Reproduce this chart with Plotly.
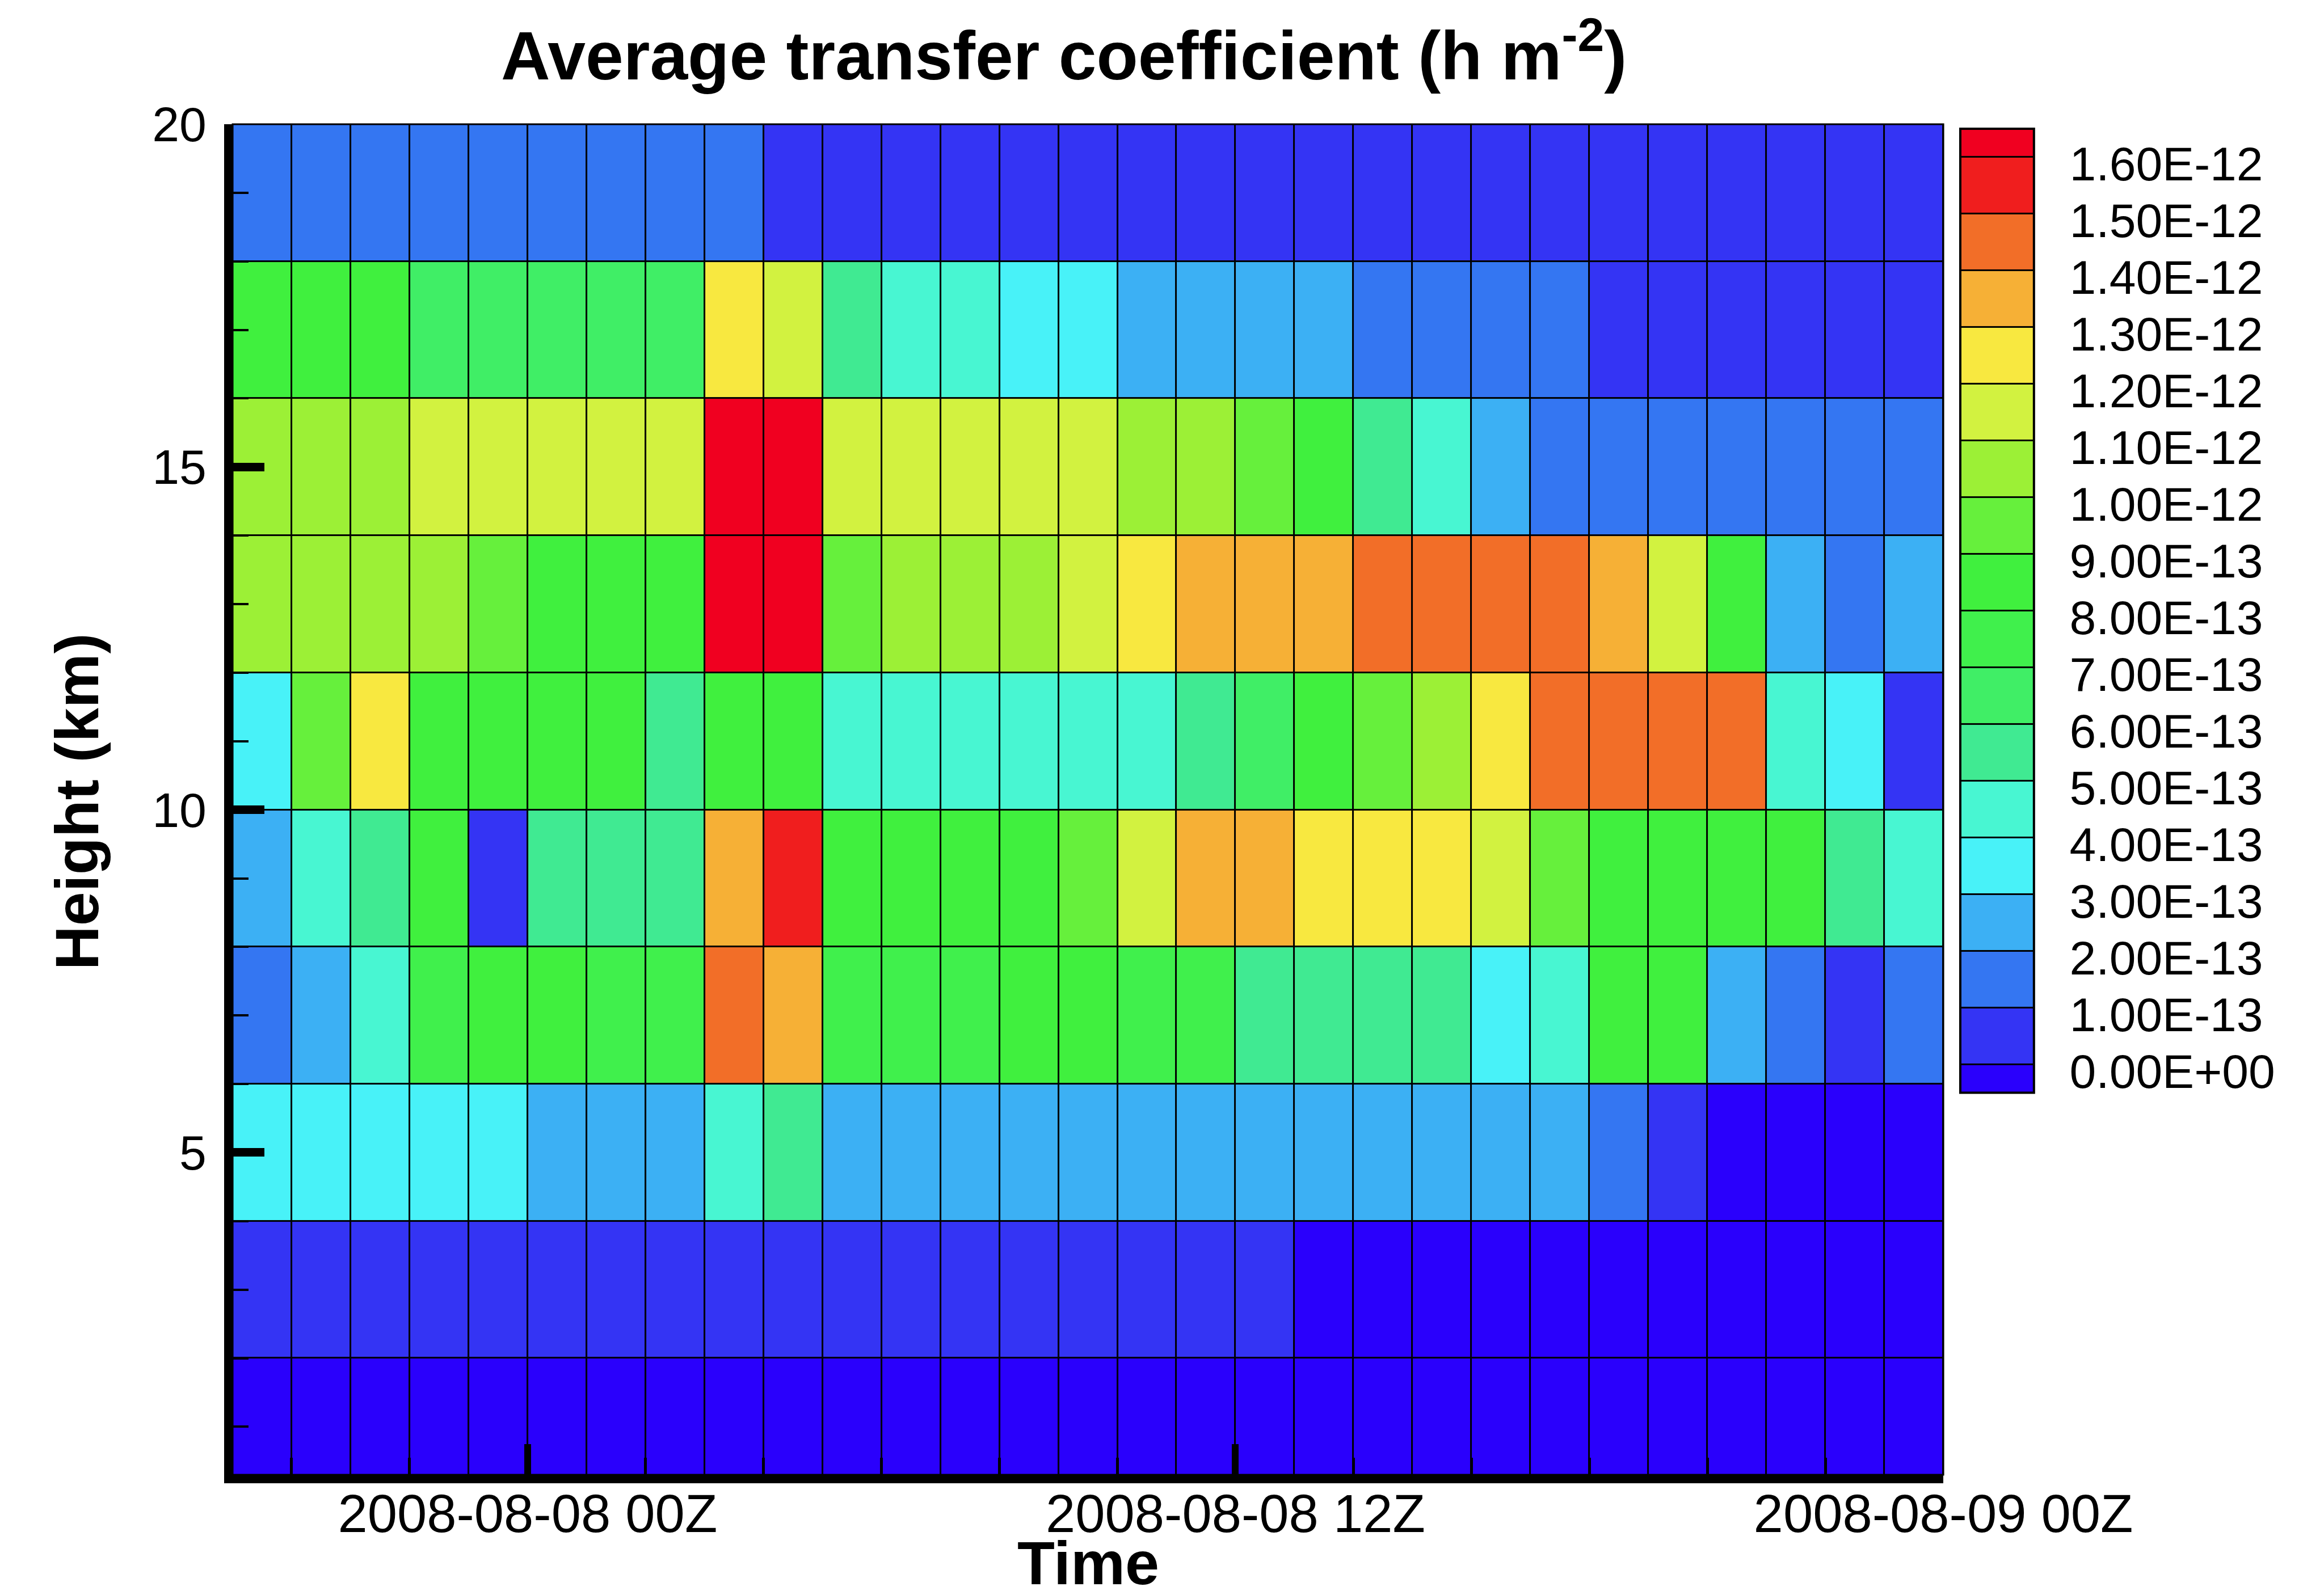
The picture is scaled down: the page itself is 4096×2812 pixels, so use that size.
import pandas as pd
import plotly.graph_objects as go

# ---- grid: hourly time bins and 2-km height bins (cell edges) ----
time_edges = pd.date_range("2008-08-07 19:00", "2008-08-09 00:00", freq="h")
height_edges_km = [0, 2, 4, 6, 8, 10, 12, 14, 16, 18, 20]

# ---- average transfer coefficient, units of 1e-13 h m^-2 ----
# one list per height bin, 29 hourly values from 2008-08-07 19Z
coef_00_02 = [-0.2, -0.2, -0.2, -0.2, -0.2, -0.2, -0.2, -0.2, -0.2, -0.2,
              -0.2, -0.2, -0.2, -0.2, -0.2, -0.2, -0.2, -0.2, -0.2, -0.2,
              -0.2, -0.2, -0.2, -0.2, -0.2, -0.2, -0.2, -0.2, -0.2]
coef_02_04 = [0.5, 0.5, 0.5, 0.5, 0.5, 0.5, 0.5, 0.5, 0.5, 0.5,
              0.5, 0.5, 0.5, 0.5, 0.5, 0.5, 0.5, 0.5, -0.2, -0.2,
              -0.2, -0.2, -0.2, -0.2, -0.2, -0.2, -0.2, -0.2, -0.2]
coef_04_06 = [3.5, 3.5, 3.5, 3.5, 3.5, 2.5, 2.5, 2.5, 4.5, 5.5,
              2.5, 2.5, 2.5, 2.5, 2.5, 2.5, 2.5, 2.5, 2.5, 2.5,
              2.5, 2.5, 2.5, 1.5, 0.5, -0.2, -0.2, -0.2, -0.2]
coef_06_08 = [1.5, 2.5, 4.5, 7.5, 8.5, 8.5, 7.5, 7.5, 14.5, 13.5,
              7.5, 7.5, 7.5, 8.5, 8.5, 7.5, 7.5, 5.5, 5.5, 5.5,
              5.5, 3.5, 4.5, 8.5, 8.5, 2.5, 1.5, 0.5, 1.5]
coef_08_10 = [2.5, 4.5, 5.5, 8.5, 0.5, 5.5, 5.5, 5.5, 13.5, 15.5,
              8.5, 8.5, 8.5, 8.5, 9.5, 11.5, 13.5, 13.5, 12.5, 12.5,
              12.5, 11.5, 9.5, 8.5, 8.5, 8.5, 8.5, 5.5, 4.5]
coef_10_12 = [3.5, 9.5, 12.5, 8.5, 8.5, 8.5, 8.5, 5.5, 8.5, 8.5,
              4.5, 4.5, 4.5, 4.5, 4.5, 4.5, 5.5, 6.5, 8.5, 9.5,
              10.5, 12.5, 14.5, 14.5, 14.5, 14.5, 4.5, 3.5, 0.5]
coef_12_14 = [10.5, 10.5, 10.5, 10.5, 9.5, 8.5, 8.5, 8.5, 16.2, 16.2,
              9.5, 10.5, 10.5, 10.5, 11.5, 12.5, 13.5, 13.5, 13.5, 14.5,
              14.5, 14.5, 14.5, 13.5, 11.5, 8.5, 2.5, 1.5, 2.5]
coef_14_16 = [10.5, 10.5, 10.5, 11.5, 11.5, 11.5, 11.5, 11.5, 16.2, 16.2,
              11.5, 11.5, 11.5, 11.5, 11.5, 10.5, 10.5, 9.5, 8.5, 5.5,
              4.5, 2.5, 1.5, 1.5, 1.5, 1.5, 1.5, 1.5, 1.5]
coef_16_18 = [8.5, 8.5, 8.5, 6.5, 6.5, 6.5, 6.5, 6.5, 12.5, 11.5,
              5.5, 4.5, 4.5, 3.5, 3.5, 2.5, 2.5, 2.5, 2.5, 1.5,
              1.5, 1.5, 1.5, 0.5, 0.5, 0.5, 0.5, 0.5, 0.5]
coef_18_20 = [1.5, 1.5, 1.5, 1.5, 1.5, 1.5, 1.5, 1.5, 1.5, 0.5,
              0.5, 0.5, 0.5, 0.5, 0.5, 0.5, 0.5, 0.5, 0.5, 0.5,
              0.5, 0.5, 0.5, 0.5, 0.5, 0.5, 0.5, 0.5, 0.5]

UNIT = 1e-13
z_rows = [coef_00_02, coef_02_04, coef_04_06, coef_06_08, coef_08_10,
          coef_10_12, coef_12_14, coef_14_16, coef_16_18, coef_18_20]
z = [[v * UNIT for v in row] for row in z_rows]

# ---- contour levels and their flood colours ----
level_labels = ["0.00E+00", "1.00E-13", "2.00E-13", "3.00E-13", "4.00E-13",
                "5.00E-13", "6.00E-13", "7.00E-13", "8.00E-13", "9.00E-13",
                "1.00E-12", "1.10E-12", "1.20E-12", "1.30E-12", "1.40E-12",
                "1.50E-12", "1.60E-12"]
level_values = [float(s) for s in level_labels]
# band below the first level, 16 bands between levels, band above the last
band_colors = ["#2a00fc", "#3434f4", "#3476f2", "#3cb0f4", "#48f2f8",
               "#48f6d2", "#40ea92", "#40ee66", "#40f04c", "#40f03e",
               "#66f03c", "#9cf036", "#d2f240", "#f8e840", "#f6b036",
               "#f26e28", "#f01e1e", "#f00020"]
band_edges = [-0.05e-12] + level_values + [1.65e-12]
cmin, cmax = band_edges[0], band_edges[-1]

colorscale = []
for i, col in enumerate(band_colors):
    lo = round((band_edges[i] - cmin) / (cmax - cmin), 6)
    hi = round((band_edges[i + 1] - cmin) / (cmax - cmin), 6)
    colorscale += [[lo, col], [hi, col]]
colorscale[0][0] = 0.0
colorscale[-1][0] = 1.0

band_mids = [(band_edges[i] + band_edges[i + 1]) / 2 for i in range(len(band_colors))]

x_edges = [t.strftime("%Y-%m-%d %H:%M") for t in time_edges]

tick_times = ["2008-08-08 00:00", "2008-08-08 12:00", "2008-08-09 00:00"]
tick_texts = ["2008-08-08 00Z", "2008-08-08 12Z", "2008-08-09 00Z"]

FONT = "Liberation Sans, Arial, Helvetica, sans-serif"

fig = go.Figure()

# flooded cells
fig.add_trace(go.Heatmap(
    x=x_edges, y=height_edges_km, z=z,
    coloraxis="coloraxis", xgap=3, ygap=3,
    hoverinfo="skip", xaxis="x", yaxis="y",
))

# level legend drawn as a one-column heatmap of the same colour scale
fig.add_trace(go.Heatmap(
    x=[0, 1], y=band_edges, z=[[m] for m in band_mids],
    coloraxis="coloraxis", ygap=3,
    hoverinfo="skip", xaxis="x2", yaxis="y2",
))

fig.update_layout(
    width=4096, height=2812, autosize=False,
    margin=dict(l=0, r=0, t=0, b=0, pad=0),
    paper_bgcolor="white", plot_bgcolor="black",
    font=dict(family=FONT, color="black"),
    showlegend=False,
    coloraxis=dict(colorscale=colorscale, cmin=cmin, cmax=cmax, showscale=False),
    xaxis=dict(
        domain=[0.1001, 0.8362], type="date", automargin=False,
        range=[x_edges[0], x_edges[-1]],
        tickmode="array", tickvals=tick_times, ticktext=tick_texts,
        ticks="inside", ticklen=54, tickwidth=12, tickcolor="black",
        tickfont=dict(size=94, family=FONT),
        ticklabelstandoff=-27,
        minor=dict(ticks="inside", dtick=2 * 3600 * 1000,
                   tick0="2008-08-08 00:00", ticklen=30, tickwidth=5,
                   tickcolor="black", showgrid=False),
        showline=True, linewidth=15, linecolor="black",
        showgrid=False, zeroline=False,
    ),
    yaxis=dict(
        domain=[0.0754, 0.9221], automargin=False,
        range=[0.30, 20],
        tickmode="array", tickvals=[5, 10, 15, 20],
        ticks="inside", ticklen=56, tickwidth=15, tickcolor="black",
        tickfont=dict(size=86, family=FONT),
        ticklabelstandoff=14,
        minor=dict(ticks="inside", dtick=1, tick0=0, ticklen=28, tickwidth=4,
                   tickcolor="black", showgrid=False),
        showline=True, linewidth=15, linecolor="black",
        showgrid=False, zeroline=False,
    ),
    xaxis2=dict(
        domain=[0.8435, 0.8752], range=[0, 1], anchor="y2", automargin=False,
        visible=False, showgrid=False, zeroline=False,
    ),
    yaxis2=dict(
        domain=[0.3149, 0.9193], range=[cmin, cmax], anchor="x2", side="right",
        automargin=False,
        tickmode="array", tickvals=level_values, ticktext=level_labels,
        ticks="outside", ticklen=45, tickcolor="rgba(0,0,0,0)",
        tickfont=dict(size=84, family=FONT),
        ticklabelshift=12,
        showline=False, showgrid=False, zeroline=False,
    ),
    shapes=[
        dict(type="rect", xref="x domain", yref="y domain", x0=0, x1=1, y0=0, y1=1,
             line=dict(color="black", width=3), layer="above"),
        dict(type="rect", xref="x2 domain", yref="y2 domain", x0=0, x1=1, y0=0, y1=1,
             line=dict(color="black", width=4), layer="above"),
    ],
    annotations=[
        dict(text="<b>Average transfer coefficient (h m<sup>-2</sup>)</b>",
             xref="paper", yref="paper", x=0.4578, y=0.9680,
             xanchor="center", yanchor="middle", showarrow=False,
             font=dict(size=120, family=FONT)),
        dict(text="<b>Time</b>", xref="paper", yref="paper",
             x=0.4683, y=0.020, xanchor="center", yanchor="middle",
             showarrow=False, borderpad=0, font=dict(size=108, family=FONT)),
        dict(text="<b>Height (km)</b>", xref="paper", yref="paper",
             x=0.0330, y=0.4975, xanchor="center", yanchor="middle",
             textangle=-90, showarrow=False, font=dict(size=108, family=FONT)),
    ],
)

fig.write_html("out.html")
